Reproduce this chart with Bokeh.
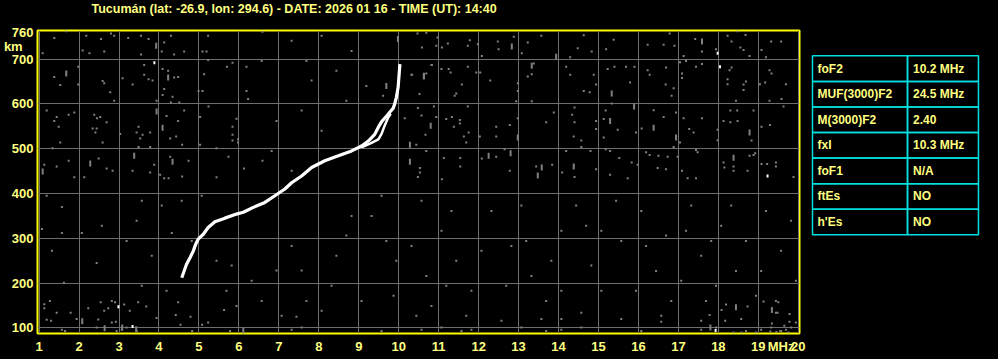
from bokeh.plotting import figure
from bokeh.models import Range1d, FixedTicker, Title
from bokeh.layouts import row
from bokeh.embed import file_html
from bokeh.resources import INLINE
from bokeh.core.properties import value

title_text = "Tucumán (lat: -26.9, lon: 294.6) - DATE: 2026 01 16 - TIME (UT): 14:40"
x_ticks = list(range(1, 21))
y_ticks = [100, 200, 300, 400, 500, 600, 700, 760]
grid_y = [100, 200, 300, 400, 500, 600, 700]
unit_x = ("MHz", 19.57)
unit_y = ("km", 728)

# ordinary trace
trace_freq = [4.57, 4.69, 4.78, 4.86, 4.92, 4.98, 5.11, 5.23, 5.40, 5.65, 5.94, 6.11, 6.36, 6.65,
              6.90, 7.15, 7.32, 7.57, 7.82, 8.15, 8.49, 8.82, 9.07, 9.24, 9.40, 9.49, 9.57, 9.69,
              9.78, 9.86, 9.90, 9.94, 9.985, 10.01, 10.03]
trace_height = [212, 242, 257, 272, 287, 298, 309, 324, 337, 345, 354, 358, 369, 380,
                395, 410, 424, 439, 458, 473, 484, 495, 506, 517, 532, 548, 560, 572,
                582, 590, 600, 614, 637, 666, 689]
# second branch
branch_freq = [9.07, 9.32, 9.49, 9.57, 9.65, 9.74, 9.80]
branch_height = [503, 513, 521, 533, 552, 570, 578]

# scattered noise returns
noise_freq = [1.38, 1.68, 2.18, 2.55, 2.80, 2.88, 3.23, 3.55, 3.74, 4.13, 4.30, 4.38, 4.63, 5.09, 5.19, 5.23,
              1.09, 2.09, 2.26, 2.63, 3.55, 4.07, 6.59,
              1.53, 1.38, 1.98, 1.98, 2.59, 2.63, 2.78, 2.88, 3.09, 3.34, 3.63, 3.63, 3.74, 3.84, 4.09, 4.23,
              4.38, 4.48, 4.13, 4.09, 4.34, 4.30, 4.51, 3.94, 5.13, 5.09, 4.99, 5.23, 5.70, 5.84, 6.19, 6.19, 6.23,
              1.19, 1.44, 1.38, 1.49, 1.74, 1.88, 2.38, 2.45, 2.53, 2.69, 2.34, 2.44, 2.41, 2.59, 1.53, 3.03,
              3.49, 3.44, 3.59, 3.53, 3.78, 4.19, 4.48, 4.63, 4.28, 4.43, 4.58, 5.03, 5.24, 5.94, 5.84, 5.84,
              5.84, 5.98, 5.98,
              1.34, 1.13, 1.44, 1.74, 1.88, 2.13, 2.49, 2.69, 2.84, 3.34, 3.49, 3.78, 3.88, 3.78, 4.03, 4.13,
              4.24, 4.28, 4.58, 4.74, 5.03, 5.44, 5.44, 5.74, 6.13, 6.59,
              7.32, 7.69, 8.07, 8.44, 8.82, 9.19, 7.57, 8.07, 8.69, 6.82, 7.32, 7.82, 6.57, 6.94,
              9.61, 10.02, 10.32, 10.52, 10.82, 11.07,
              10.47, 10.69, 10.97, 10.58, 10.94, 11.08, 11.23, 11.78, 11.73, 11.98, 12.08, 12.48, 12.50, 12.88,
              13.08, 13.23, 13.57, 14.29, 14.48, 14.63, 14.83, 15.19, 15.38, 16.23, 16.63, 16.78, 16.90, 17.13,
              17.42, 17.59, 17.94, 18.23, 18.33, 18.48, 18.55, 18.68, 18.63, 18.78, 19.08, 19.19, 19.32, 19.57,
              10.33, 10.69, 10.83, 11.25, 11.30, 11.58, 11.40, 11.44, 11.73, 11.94, 12.04, 12.29, 12.98, 12.98,
              12.94, 13.38, 13.23, 13.33, 13.33, 14.19, 14.29, 14.63, 14.78, 14.88, 14.94, 15.33, 15.23, 15.40,
              15.69, 15.79, 15.90, 16.23, 16.28, 16.69, 16.68, 16.83, 16.88, 17.04, 17.09, 17.09, 17.19, 17.44,
              17.59, 18.23, 18.23, 18.33, 18.28, 18.44, 18.63, 18.69, 18.63, 19.04, 19.17, 19.28, 19.33, 19.28,
              19.58, 19.69,
              10.15, 10.48, 10.57, 10.88, 10.94, 10.67, 10.44, 11.19, 11.33, 11.38, 11.53, 11.53, 11.73, 11.63,
              11.75, 11.69, 12.03, 12.44, 12.44, 12.78, 12.98, 13.69, 13.88, 14.40, 14.34, 14.40, 14.38, 14.57,
              14.57, 14.94, 14.94, 15.18, 15.13, 15.13, 15.48, 15.94, 16.08, 16.38, 16.63, 16.94, 16.88, 17.04,
              17.13, 17.27, 17.38, 17.59, 17.98, 17.98, 18.13, 18.30, 18.30, 18.48, 18.47, 18.83, 18.88, 19.08,
              19.29, 19.63,
              10.69, 10.53, 10.53, 10.48, 11.08, 11.13, 11.54, 11.54, 12.08, 12.44, 12.65, 12.78, 13.44, 13.84,
              14.09, 14.19, 14.40, 14.80, 14.94, 15.18, 15.29, 15.29, 15.52, 15.73, 15.83, 15.98, 16.19, 16.28,
              16.48, 16.50, 16.69, 16.73, 16.98, 17.09, 17.23, 17.44, 17.44, 17.48, 18.13, 18.15, 18.38, 18.38,
              18.78, 18.88, 18.92, 18.73, 19.08, 19.22, 19.44, 19.44, 19.88,
              # lower half
              1.19, 1.57, 1.32, 2.44, 1.62, 1.27, 1.94, 2.82, 3.27, 3.57, 4.19, 3.82, 3.19, 3.44, 2.57, 2.07,
              1.57, 1.07, 4.32, 4.57, 4.07, 3.57, 5.07, 5.44, 5.69, 5.94, 6.32, 6.57, 6.94, 7.32, 7.57, 7.69,
              8.32, 8.44, 8.69, 8.82, 9.32, 9.57, 9.69, 9.94, 9.87, 9.07, 8.07, 7.07, 5.82, 4.82,
              10.57, 11.07, 11.44, 11.82, 12.32, 12.82, 13.32, 13.69, 14.07, 14.44, 14.82, 15.07, 15.57, 16.07,
              16.44, 16.82, 17.19, 17.57, 17.94, 18.32, 18.69, 19.07, 19.44, 19.82, 10.82, 11.69, 12.57, 13.57,
              14.57, 15.57, 16.57, 17.57, 18.57, 19.44, 10.69, 12.07, 13.07, 15.44, 17.32, 17.69, 18.44, 19.19,
              11.32, 14.07, 15.07, 16.19, 17.07, 18.07, 18.94, 10.32, 11.19, 12.69, 13.19, 13.82, 14.69, 15.94,
              16.69, 17.82, 19.57, 19.94, 10.44, 14.07,
              1.13, 1.13, 1.44, 1.79, 1.19, 1.30, 1.65, 2.23, 2.48, 2.54, 2.63, 2.73, 2.82, 2.92, 2.90, 3.13,
              3.48, 3.68, 3.94, 4.42, 4.48, 4.79, 4.54, 4.83, 5.08, 5.23, 5.63, 5.78, 7.44,
              17.78, 18.19, 18.73, 18.08, 16.57, 18.17, 18.38, 18.58, 18.94, 19.13, 19.50, 19.34, 19.48, 19.78,
              19.78, 19.94, 19.65, 19.30, 19.45, 19.55, 19.75,
              # bottom strip
              1.57, 2.44, 2.94, 3.07, 3.19, 3.44, 7.32, 7.57, 9.57, 10.57, 11.07, 11.57, 11.82, 13.07, 13.69,
              14.07, 14.57, 16.07, 17.57, 17.94, 18.69, 19.07, 19.32, 19.57, 19.69, 19.82]
noise_height = [747, 762, 752, 745, 757, 752, 747, 752, 745, 737, 752, 710, 717, 717, 717, 752,
                713, 719, 713, 717, 710, 717, 761,
                642, 660, 683, 643, 651, 646, 626, 607, 657, 643, 687, 665, 655, 652, 678, 674,
                659, 660, 633, 620, 616, 603, 603, 607, 666, 629, 629, 698, 683, 692, 683, 629, 611,
                585, 571, 562, 549, 576, 581, 576, 568, 571, 559, 545, 545, 536, 514, 514, 533,
                549, 536, 531, 523, 536, 573, 562, 585, 523, 527, 509, 571, 594, 567, 549, 531,
                518, 521, 514,
                501, 464, 460, 473, 436, 436, 478, 456, 451, 451, 504, 504, 464, 447, 442, 434,
                434, 482, 438, 473, 509, 501, 436, 482, 456, 473,
                741, 696, 752, 674, 718, 640, 585, 540, 607, 495, 451, 652, 696, 562,
                618, 685, 665, 622, 687, 678,
                757, 759, 748, 726, 730, 726, 735, 742, 730, 733, 707, 739, 722, 750,
                713, 737, 752, 704, 724, 753, 717, 722, 743, 732, 732, 757, 730, 707,
                745, 717, 722, 752, 739, 762, 726, 754, 720, 707, 720, 704, 739, 739,
                665, 668, 687, 678, 670, 643, 618, 623, 683, 670, 670, 652, 646, 629,
                606, 690, 661, 666, 606, 683, 665, 629, 626, 665, 643, 601, 678, 683,
                683, 648, 683, 675, 665, 681, 643, 618, 635, 693, 668, 658, 696, 683,
                689, 644, 655, 681, 675, 607, 643, 650, 631, 644, 648, 675, 668, 607,
                611, 644,
                568, 591, 574, 594, 571, 531, 509, 566, 571, 549, 564, 556, 594, 527,
                536, 514, 527, 549, 527, 553, 568, 559, 581, 592, 576, 559, 527, 518,
                504, 562, 544, 585, 566, 525, 542, 536, 545, 586, 571, 581, 504, 514,
                568, 544, 536, 568, 542, 519, 562, 585, 559, 562, 585, 518, 585, 549,
                553, 594,
                495, 457, 447, 437, 432, 479, 479, 460, 478, 482, 499, 451, 460, 464,
                447, 495, 437, 495, 454, 499, 495, 442, 479, 434, 469, 464, 492, 486,
                457, 484, 454, 482, 482, 451, 434, 434, 497, 492, 469, 458, 460, 451,
                484, 486, 490, 451, 466, 466, 469, 460, 437,
                395, 370, 272, 245, 201, 160, 120, 160, 138, 194, 183, 261, 294, 339, 328, 312,
                312, 321, 312, 384, 373, 384, 395, 250, 183, 149, 205, 160, 228, 283, 228, 160,
                194, 261, 306, 350, 350, 395, 294, 250, 172, 160, 138, 127, 239, 294,
                384, 317, 250, 183, 361, 283, 216, 160, 317, 373, 239, 183, 294, 361,
                227, 160, 317, 261, 194, 373, 294, 227, 160, 339, 149, 127, 116, 120,
                134, 120, 127, 116, 120, 134, 216, 272, 373, 384, 373, 160, 227, 361,
                361, 183, 317, 283, 205, 328, 172, 283, 194, 194, 294, 250, 328, 183,
                306, 294, 272, 205, 127, 120,
                153, 144, 134, 134, 118, 116, 93, 144, 119, 157, 138, 144, 112, 114, 157, 152,
                157, 148, 122, 129, 157, 125, 107, 93, 107, 112, 140, 93, 125,
                129, 152, 148, 140, 114, 116, 90, 90, 90, 159, 157, 110, 134, 131,
                114, 112, 105, 92, 91, 93, 90,
                96, 101, 93, 96, 101, 93, 96, 101, 93, 96, 101, 93, 96, 101, 93,
                96, 101, 93, 96, 101, 93, 96, 101, 93, 96, 101]
tall_freq = [3.93, 1.68, 4.23, 3.94, 4.09, 1.09, 2.28, 3.38, 4.34, 12.83, 13.94, 17.59, 10.63, 13.33,
             15.33, 10.80, 10.28, 12.98, 15.29, 15.89, 16.38, 16.94, 18.78, 10.28, 12.25, 12.80, 13.48,
             13.58, 14.38, 18.38, 9.69, 10.63, 2.64, 3.08, 3.43, 2.08, 6.11, 17.80, 18.44, 19.34, 9.98]
tall_height = [730, 668, 659, 583, 547, 449, 467, 484, 471, 728, 705, 739, 661, 685,
               623, 551, 509, 525, 562, 594, 547, 525, 536, 471, 484, 490, 440,
               458, 460, 480, 640, 663, 99, 101, 97, 115, 93, 101, 146, 140, 745]
white_freq = [3.885, 17.98, 18.04, 19.23, 2.985, 3.34, 17.93]
white_height = [692, 713, 683, 439, 147, 103, 94]

# ionospheric parameters table
param_names = ["foF2", "MUF(3000)F2", "M(3000)F2", "fxI", "foF1", "ftEs", "h'Es"]
param_values = ["10.2 MHz", "24.5 MHz", "2.40", "10.3 MHz", "N/A", "NO", "NO"]

YEL = "#ffff80"
FONT = value("Liberation Sans")
NB = "\u00a0"

p = figure(width=810, height=359, x_range=Range1d(0.96, 20.03), y_range=Range1d(87.5, 763.8),
           output_backend="svg", toolbar_location=None,
           min_border_left=36, min_border_right=11, min_border_top=30, min_border_bottom=26,
           background_fill_color="black", border_fill_color="black",
           outline_line_color="#ffff00", outline_line_width=2)

p.xaxis.ticker = FixedTicker(ticks=x_ticks + [unit_x[1]])
p.yaxis.ticker = FixedTicker(ticks=y_ticks + [unit_y[1]])
p.xaxis.major_label_overrides = {unit_x[1]: unit_x[0]}
p.yaxis.major_label_overrides = {unit_y[1]: unit_y[0] + NB * 3}
p.xgrid.ticker = FixedTicker(ticks=x_ticks)
p.ygrid.ticker = FixedTicker(ticks=grid_y)
p.grid.grid_line_color = "#6e6e6e"
p.grid.grid_line_width = 1
for ax in (p.xaxis, p.yaxis):
    ax.axis_line_color = None
    ax.major_tick_line_color = None
    ax.minor_tick_line_color = None
    ax.major_tick_out = 0
    ax.major_tick_in = 0
    ax.major_label_text_color = YEL
    ax.major_label_text_font = "Liberation Sans"
    ax.major_label_text_font_style = "bold"
    ax.major_label_text_font_size = "13px"
p.xaxis.major_label_standoff = 5
p.yaxis.major_label_standoff = 4

p.add_layout(Title(text=title_text + "\n" + NB, align="left", offset=54, standoff=0, vertical_align="top",
                   text_color=YEL, text_font="Liberation Sans", text_font_style="bold",
                   text_font_size="12.5px", text_line_height=0.96), "above")

p.rect(noise_freq, noise_height, width=2, height=2, width_units="screen", height_units="screen",
       fill_color="#808080", line_color=None)
p.rect(tall_freq, tall_height, width=2, height=6, width_units="screen", height_units="screen",
       fill_color="#808080", line_color=None)
p.rect(white_freq, white_height, width=2, height=3, width_units="screen", height_units="screen",
       fill_color="white", line_color=None)

p.line(branch_freq, branch_height, line_color="white", line_width=2.5)
p.line(trace_freq, trace_height, line_color="white", line_width=3.2)

# table figure (pixel coordinates)
t = figure(width=188, height=359, x_range=Range1d(0, 188), y_range=Range1d(359, 0),
           output_backend="svg", toolbar_location=None, min_border=0,
           background_fill_color="black", border_fill_color="black", outline_line_color=None)
t.xaxis.visible = False
t.yaxis.visible = False
t.grid.visible = False

n = len(param_names)
top0, row_h = 30.0, 30.3
tops = [top0 + i * row_h for i in range(n)]
bots = [tv + row_h for tv in tops]
mids = [tv + row_h / 2 for tv in tops]
CY = "#00e0e0"
t.quad(left=[2] * n, right=[97] * n, top=tops, bottom=bots, fill_color=None, line_color=CY, line_width=1.5)
t.quad(left=[97] * n, right=[168] * n, top=tops, bottom=bots, fill_color=None, line_color=CY, line_width=1.5)
t.text(x=[7] * n, y=mids, text=param_names, text_color=YEL, text_font=FONT, text_font_style="bold",
       text_font_size="12px", text_baseline="middle")
t.text(x=[102.5] * n, y=mids, text=param_values, text_color=YEL, text_font=FONT, text_font_style="bold",
       text_font_size="12px", text_baseline="middle")

layout = row(p, t, spacing=0)
layout.styles = {"background-color": "black"}
html = file_html(layout, INLINE)
html = html.replace("<body>", "<body style=\"margin:0;background:black;\">")
open("out.html", "w").write(html)
